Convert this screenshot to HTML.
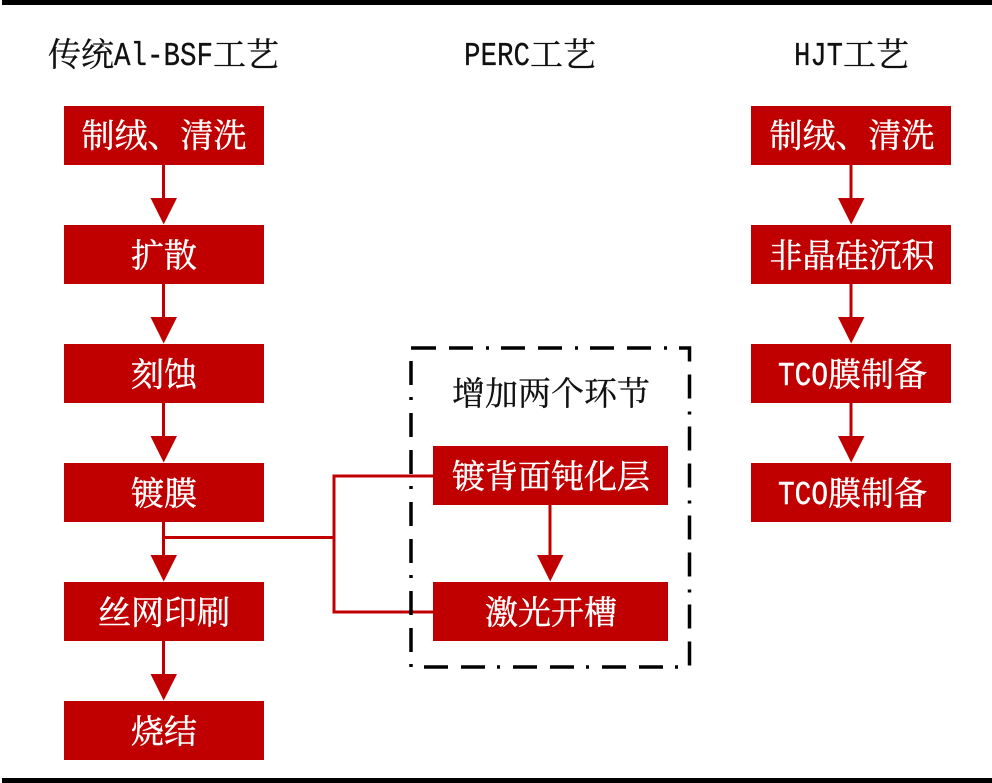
<!DOCTYPE html>
<html lang="zh">
<head>
<meta charset="utf-8">
<style>
html,body{margin:0;padding:0;background:#fff;width:992px;height:783px;overflow:hidden}
svg{display:block}
text{font-family:"Liberation Serif","Noto Serif CJK SC",serif;font-size:33px}
.c{font-family:"Noto Serif CJK SC","WenQuanYi Zen Hei",serif}
.w{fill:#fff;text-anchor:middle;stroke:#fff;stroke-width:.45}
.k{fill:#111;stroke:#111;stroke-width:.3}
.m{font-family:"Liberation Mono",monospace;font-size:33px}
.f{fill:#fff;stroke:#fff;stroke-width:.45}
</style>
</head>
<body>
<svg width="992" height="783" viewBox="0 0 992 783" xmlns="http://www.w3.org/2000/svg">
<rect width="992" height="783" fill="#fff"/>
<rect x="2" y="0" width="990" height="5" fill="#000"/>
<rect x="2" y="778" width="990" height="5" fill="#000"/>

<!-- headers -->
<text class="c k" x="48" y="66">传统</text>
<text class="m k" x="114" y="65" textLength="99" lengthAdjust="spacingAndGlyphs">Al-BSF</text>
<text class="c k" x="213" y="66">工艺</text>
<text class="m k" x="464" y="65" textLength="66" lengthAdjust="spacingAndGlyphs">PERC</text>
<text class="c k" x="530" y="66">工艺</text>
<text class="m k" x="794" y="65" textLength="49" lengthAdjust="spacingAndGlyphs">HJT</text>
<text class="c k" x="843" y="66">工艺</text>

<!-- connectors -->
<g stroke="#c00000" stroke-width="3" fill="none">
<path d="M163.5 165V200M163.5 284V319M163.5 403V438M163.5 522V557M163.5 641V676"/>
<path d="M851 165V200M851 284V319M851 403V438"/>
<path d="M550 505V557"/>
<path d="M163 537.5H334M433 476H334V612H433"/>
</g>
<g fill="#c00000">
<path d="M150.500 198H177L163.700 224.500Z"/>
<path d="M150.500 317H177L163.700 343.500Z"/>
<path d="M150.500 436H177L163.700 462.500Z"/>
<path d="M150.500 555H177L163.700 581.500Z"/>
<path d="M150.500 674H177L163.700 700.500Z"/>
<path d="M838 198H864.500L851.200 224.500Z"/>
<path d="M838 317H864.500L851.200 343.500Z"/>
<path d="M838 436H864.500L851.200 462.500Z"/>
<path d="M537 555H563.500L550.200 581.500Z"/>
</g>

<!-- dashed frame -->
<path d="M412 348H689.500V667H411V348Z" fill="none" stroke="#000" stroke-width="3.500" stroke-dasharray="24 13 24 13 3 12"/>

<!-- boxes -->
<g fill="#c00000">
<rect x="64" y="106" width="200" height="59"/>
<rect x="64" y="225" width="200" height="59"/>
<rect x="64" y="344" width="200" height="59"/>
<rect x="64" y="463" width="200" height="59"/>
<rect x="64" y="582" width="200" height="59"/>
<rect x="64" y="701" width="200" height="59"/>
<rect x="751" y="106" width="200" height="59"/>
<rect x="751" y="225" width="200" height="59"/>
<rect x="751" y="344" width="200" height="59"/>
<rect x="751" y="463" width="200" height="59"/>
<rect x="433" y="446" width="235" height="59"/>
<rect x="433" y="582" width="235" height="59"/>
</g>

<!-- labels -->
<g>
<text class="c w" x="164" y="147">制绒、清洗</text>
<text class="c w" x="164" y="267">扩散</text>
<text class="c w" x="164" y="386">刻蚀</text>
<text class="c w" x="164" y="505">镀膜</text>
<text class="c w" x="164" y="624">丝网印刷</text>
<text class="c w" x="164" y="743">烧结</text>
<text class="c w" x="852" y="147">制绒、清洗</text>
<text class="c w" x="852" y="267">非晶硅沉积</text>
<text class="m f" x="778" y="385" textLength="50" lengthAdjust="spacingAndGlyphs">TCO</text>
<text class="c f" x="828" y="386">膜制备</text>
<text class="m f" x="778" y="504" textLength="50" lengthAdjust="spacingAndGlyphs">TCO</text>
<text class="c f" x="828" y="505">膜制备</text>
<text class="c w" x="551" y="488">镀背面钝化层</text>
<text class="c w" x="551" y="624">激光开槽</text>
<text class="c k" x="551" y="405" text-anchor="middle">增加两个环节</text>
</g>
</svg>
</body>
</html>
